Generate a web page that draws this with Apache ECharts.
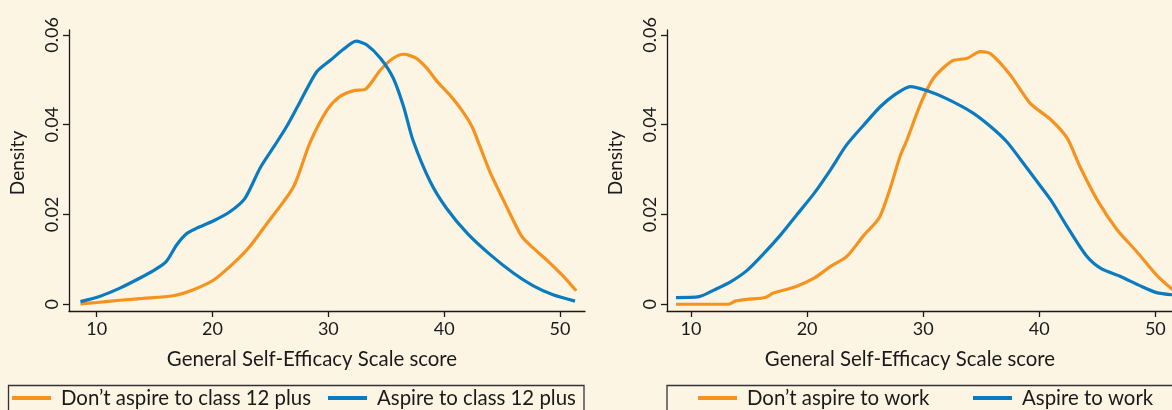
<!DOCTYPE html>
<html>
<head>
<meta charset="utf-8">
<script src="https://cdn.jsdelivr.net/npm/echarts@6/dist/echarts.min.js"></script>
<style>
html,body{margin:0;padding:0;background:#fdf5e4;}
#chart{width:1172px;height:410px;}
</style>
</head>
<body>
<div id="chart"></div>
<script>
// Left panel: aspiration to class 12 plus
var leftDontX = [8.6, 10, 12, 14, 16.6, 18.3, 20.1, 21.8, 23.2, 24.7, 27.0, 28.4, 29.9, 31.0, 32.2, 33.2, 34.5, 35.6, 36.5, 37.6, 38.5, 39.4, 40.5, 41.5, 42.4, 43.1, 44.0, 45.4, 46.7, 47.7, 49.0, 50.3, 51.4];
var leftDontY = [0.0001, 0.0004, 0.0009, 0.0013, 0.0019, 0.0032, 0.0054, 0.0091, 0.0128, 0.0180, 0.0262, 0.0359, 0.0433, 0.0463, 0.0476, 0.0479, 0.0522, 0.0548, 0.0557, 0.0548, 0.0526, 0.0496, 0.0466, 0.0433, 0.0396, 0.0351, 0.0292, 0.0217, 0.0151, 0.0125, 0.0095, 0.0062, 0.0030];
var leftAspX = [8.6, 10.3, 12.0, 13.7, 14.9, 16.0, 16.9, 17.8, 18.6, 20.1, 21.5, 22.8, 24.1, 25.3, 26.4, 27.6, 29.0, 30.2, 31.3, 32.4, 33.3, 34.5, 35.6, 36.5, 37.3, 38.8, 40.2, 42.0, 44.0, 46.0, 47.7, 49.4, 51.3];
var leftAspY = [0.0006, 0.0018, 0.0036, 0.0058, 0.0075, 0.0095, 0.0132, 0.0158, 0.0169, 0.0186, 0.0206, 0.0236, 0.0303, 0.0351, 0.0396, 0.0453, 0.0518, 0.0544, 0.0568, 0.0586, 0.0578, 0.0548, 0.0504, 0.0440, 0.0366, 0.0273, 0.0214, 0.0158, 0.0110, 0.0069, 0.0041, 0.0021, 0.0007];

// Right panel: aspiration to work
var rightDontX = [8.7, 13.2, 13.8, 14.8, 16.4, 17.1, 19.0, 20.6, 22.0, 23.4, 24.9, 26.2, 27.2, 28.0, 28.6, 29.8, 30.9, 32.5, 33.8, 34.9, 35.8, 37.5, 39.2, 41.0, 42.4, 43.5, 45.0, 46.7, 48.4, 50.1, 51.5];
var rightDontY = [0.0000, 0.0000, 0.0007, 0.0011, 0.0015, 0.0025, 0.0039, 0.0058, 0.0084, 0.0106, 0.0154, 0.0192, 0.0262, 0.0329, 0.0366, 0.0448, 0.0504, 0.0542, 0.0548, 0.0563, 0.0558, 0.0511, 0.0448, 0.0411, 0.0370, 0.0307, 0.0232, 0.0166, 0.0117, 0.0065, 0.0032];
var rightAspX = [8.7, 10.7, 12.0, 13.4, 14.8, 16.3, 17.7, 19.1, 20.6, 22.0, 23.4, 24.9, 26.3, 27.5, 28.9, 30.3, 32.1, 34.3, 35.8, 37.2, 38.4, 39.5, 41.0, 42.4, 44.0, 45.3, 47.0, 48.7, 50.1, 51.5];
var rightAspY = [0.0015, 0.0017, 0.0032, 0.0050, 0.0075, 0.0114, 0.0154, 0.0199, 0.0247, 0.0299, 0.0355, 0.0400, 0.0440, 0.0466, 0.0485, 0.0476, 0.0457, 0.0426, 0.0396, 0.0362, 0.0322, 0.0284, 0.0232, 0.0173, 0.0110, 0.0080, 0.0062, 0.0041, 0.0026, 0.0021];

var seriesNames = ["Don\u2019t aspire to class 12 plus", "Aspire to class 12 plus", "Don\u2019t aspire to work", "Aspire to work"];
var xTickValues = [10, 20, 30, 40, 50];
var yTickValues = [0, 0.02, 0.04, 0.06];
var xTitle = "General Self-Efficacy Scale score";
var yTitle = "Density";

var ORANGE = '#f6921e';
var BLUE = '#0b7bc1';
var INK = '#1a1a1a';
var FONT = 'Lato';

function pairs(xs, ys) { return xs.map(function (x, i) { return [x, ys[i]]; }); }

function xAxis(idx, min, max) {
  return {
    type: 'value', gridIndex: idx, min: min, max: max,
    axisLine: { show: true, onZero: false, lineStyle: { color: INK, width: 1.3 } },
    axisTick: { show: true, length: 6, customValues: xTickValues, lineStyle: { color: INK, width: 1.3 } },
    axisLabel: { customValues: xTickValues, margin: 9, fontFamily: FONT, fontSize: 18, color: INK },
    splitLine: { show: false },
    name: xTitle, nameLocation: 'middle', nameGap: 38,
    nameTextStyle: { fontFamily: FONT, fontSize: 20.4, color: INK, padding: [0, 30, 0, 0] }
  };
}
function yAxis(idx) {
  return {
    type: 'value', gridIndex: idx, min: -0.0015, max: 0.0611,
    axisLine: { show: true, lineStyle: { color: INK, width: 1.3 } },
    axisTick: { show: true, length: 6, customValues: yTickValues, lineStyle: { color: INK, width: 1.3 } },
    axisLabel: { customValues: yTickValues, rotate: 90, margin: 8, fontFamily: FONT, fontSize: 18, color: INK },
    splitLine: { show: false },
    name: yTitle, nameLocation: 'middle', nameGap: 42,
    nameTextStyle: { fontFamily: FONT, fontSize: 19, color: INK, padding: [0, 0, 0, 15] }
  };
}
function line(name, data, color, idx) {
  return {
    type: 'line', name: name, data: data, xAxisIndex: idx, yAxisIndex: idx,
    showSymbol: false, smooth: 0.25, clip: false,
    lineStyle: { color: color, width: 3.2 }, itemStyle: { color: color }
  };
}
function legend(name, left) {
  return {
    data: [name], left: left, top: 386, padding: 0,
    icon: 'rect', itemWidth: 39, itemHeight: 4,
    textStyle: { fontFamily: FONT, fontSize: 20.4, color: INK, lineHeight: 24, padding: [0, 0, 0, 5] },
    selectedMode: false
  };
}

var chart = echarts.init(document.getElementById('chart'), null, { renderer: 'canvas' });
chart.setOption({
  backgroundColor: '#fdf5e4',
  animation: false,
  grid: [
    { left: 69, top: 30, width: 516, height: 281, outerBoundsMode: 'none', containLabel: false },
    { left: 667, top: 30, width: 516, height: 281, outerBoundsMode: 'none', containLabel: false }
  ],
  xAxis: [xAxis(0, 7.61, 52.16), xAxis(1, 7.93, 52.38)],
  yAxis: [yAxis(0), yAxis(1)],
  legend: [
    legend(seriesNames[0], 12),
    legend(seriesNames[1], 328),
    legend(seriesNames[2], 698),
    legend(seriesNames[3], 973)
  ],
  graphic: [
    { type: 'rect', shape: { x: 8.5, y: 385.5, width: 575.5, height: 60 }, style: { fill: 'none', stroke: '#333', lineWidth: 1.3 }, silent: true },
    { type: 'rect', shape: { x: 667, y: 385.5, width: 540, height: 60 }, style: { fill: 'none', stroke: '#333', lineWidth: 1.3 }, silent: true }
  ],
  series: [
    line(seriesNames[0], pairs(leftDontX, leftDontY), ORANGE, 0),
    line(seriesNames[1], pairs(leftAspX, leftAspY), BLUE, 0),
    line(seriesNames[2], pairs(rightDontX, rightDontY), ORANGE, 1),
    line(seriesNames[3], pairs(rightAspX, rightAspY), BLUE, 1)
  ]
});
</script>
</body>
</html>
